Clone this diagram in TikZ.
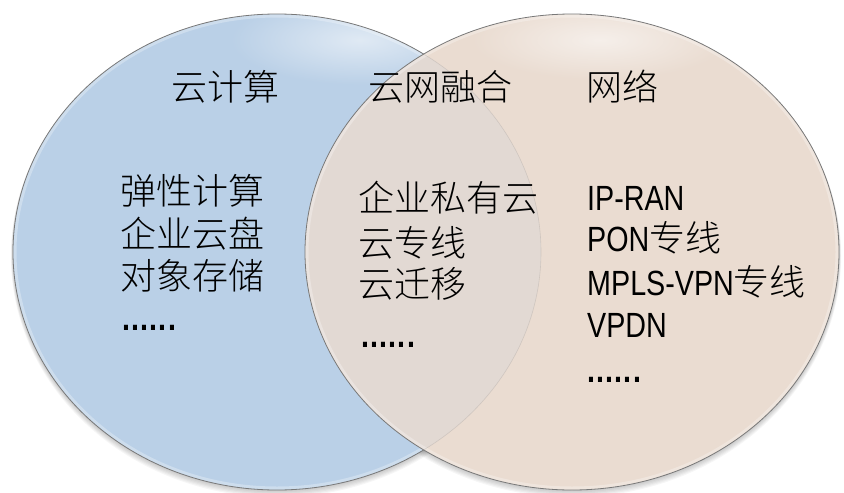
\documentclass[tikz,border=0pt]{standalone}
\usepackage{fontspec}
\setmainfont{Noto Sans CJK SC}[UprightFont={* Light}]
\newfontfamily\latnarrow[FakeStretch=0.82]{Liberation Sans}
\usetikzlibrary{fadings}
\tikzfading[name=softglow, inner color=transparent!45, outer color=transparent!100]
\definecolor{bluefill}{RGB}{186,208,231}
\definecolor{beigefill}{RGB}{234,220,209}
\definecolor{overlapfill}{RGB}{226,217,211}
\definecolor{rimgray}{RGB}{120,120,120}
\newcommand\latw[1]{{\fontsize{35}{43}\selectfont\latnarrow #1}}
\newcommand\sixdots{\latw{\textbf{.\kern1.2pt.\kern1.2pt.\kern1.2pt.\kern1.2pt.\kern1.2pt.}}}
\begin{document}
\begin{tikzpicture}[x=1pt,y=-1pt,
  txt/.style={anchor=base west, inner sep=0pt, font=\fontsize{36}{43}\selectfont, text=black},
  outline/.style={draw=rimgray, line width=0.8pt},
  innerrim/.style={draw=white, line width=7pt, opacity=0.28}]
\useasboundingbox (0,0) rectangle (844,493);
\fill[white] (0,0) rectangle (844,493);
% shadows
\foreach \k in {1,...,6} {
  \fill[black, opacity=0.035] (277,252+\k*0.7) ellipse [x radius=264pt+\k*0.35pt, y radius=238pt+\k*0.5pt];
  \fill[black, opacity=0.035] (572,252+\k*0.7) ellipse [x radius=267pt+\k*0.35pt, y radius=238pt+\k*0.5pt];
}
% left ellipse
\fill[bluefill] (277,252) ellipse [x radius=264pt, y radius=238pt];
\begin{scope}
  \clip (277,252) ellipse [x radius=264pt, y radius=238pt];
  \fill[white, path fading=softglow] (360,40) ellipse [x radius=130pt, y radius=45pt];
  \draw[innerrim] (277,252) ellipse [x radius=264pt, y radius=238pt];
\end{scope}
\draw[outline] (277,252) ellipse [x radius=264pt, y radius=238pt];
% right ellipse
\fill[beigefill] (572,252) ellipse [x radius=267pt, y radius=238pt];
\begin{scope}
  \clip (277,252) ellipse [x radius=264pt, y radius=238pt];
  \fill[overlapfill] (572,252) ellipse [x radius=267pt, y radius=238pt];
\end{scope}
\begin{scope}
  \clip (572,252) ellipse [x radius=267pt, y radius=238pt];
  \fill[white, path fading=softglow] (600,40) ellipse [x radius=130pt, y radius=40pt];
  \draw[innerrim] (572,252) ellipse [x radius=267pt, y radius=238pt];
  \draw[rimgray, line width=0.6pt, opacity=0.2] (277,252) ellipse [x radius=264pt, y radius=238pt];
\end{scope}
\draw[outline] (572,252) ellipse [x radius=267pt, y radius=238pt];
% titles
\node[txt] (t1) at (171,100) {云计算};
\node[txt] (t2) at (368,100) {云网融合};
\node[txt] (t3) at (586,100) {网络};
% left column
\node[txt] (l1) at (120,204) {弹性计算};
\node[txt] (l2) at (120,247) {企业云盘};
\node[txt] (l3) at (120,289) {对象存储};
\node[txt] (l4) at (122,330) {\sixdots};
% middle column
\node[txt] (m1) at (358,211) {企业私有云};
\node[txt] (m2) at (358,256) {云专线};
\node[txt] (m3) at (358,297) {云迁移};
\node[txt] (m4) at (361,347) {\sixdots};
% right column
\node[txt] (r1) at (587,210) {\latw{IP-RAN}};
\node[txt] (r2) at (587,251) {\latw{PON}专线};
\node[txt] (r3) at (587,295) {\latw{MPLS-VPN}专线};
\node[txt] (r4) at (587,337) {\latw{VPDN}};
\node[txt] (r5) at (587,382) {\sixdots};
\end{tikzpicture}
\end{document}
